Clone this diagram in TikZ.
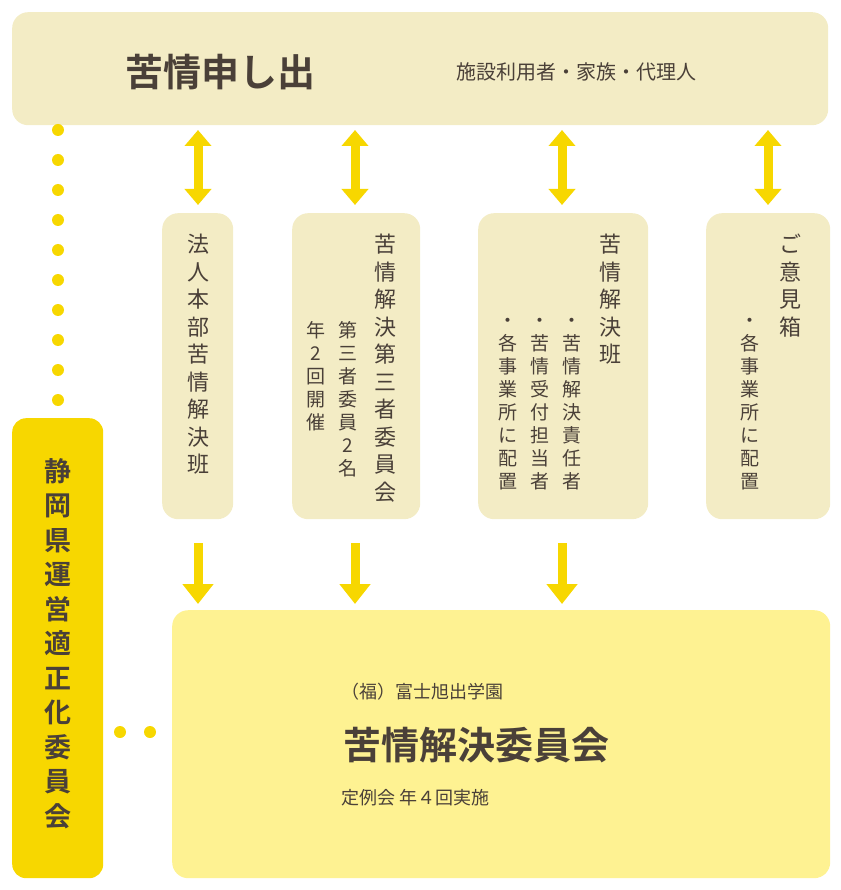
\documentclass[tikz,border=0pt]{standalone}
\usepackage{fontspec}
\setmainfont{Noto Sans CJK JP}
\newfontfamily\jpb{Noto Sans CJK JP Bold}
\usetikzlibrary{arrows.meta}
\definecolor{beige}{HTML}{F3ECC5}
\definecolor{ylw}{HTML}{F7D700}
\definecolor{lylw}{HTML}{FEF292}
\definecolor{txt}{HTML}{4A4038}
\tikzset{
  box/.style={fill=beige, rounded corners=16pt, draw=none},
  vt/.style={text=txt, align=center, inner sep=0pt, anchor=north},
  big/.style={vt, font=\fontsize{22}{27.5}\selectfont},
  sml/.style={vt, font=\fontsize{19}{23}\selectfont},
  dbl/.style={draw=ylw, line width=9pt, {Triangle[width=26pt,length=16pt]}-{Triangle[width=26pt,length=16pt]}},
  dn/.style={draw=ylw, line width=9pt, -{Triangle[width=30pt,length=20pt]}},
  dot/.style={fill=ylw, circle, inner sep=0pt, minimum size=12pt}
}
\begin{document}
\begin{tikzpicture}[x=1pt,y=-1pt]
\useasboundingbox (0,0) rectangle (840,890);
% top
\node[box, minimum width=816pt, minimum height=113pt, anchor=north west] (top) at (12,12) {};
\node[text=txt, font=\jpb\fontsize{38}{40}\selectfont] (t1) at (220,72) {苦情申し出};
\node[text=txt, font=\fontsize{20}{22}\selectfont] (t2) at (576,72) {施設利用者・家族・代理人};
% dots
\foreach \i in {0,...,9} \node[dot] (d\i) at (58,130+30*\i) {};
% left box
\node[fill=ylw, rounded corners=14pt, minimum width=91pt, minimum height=460pt, anchor=north west] (left) at (12,418) {};
\node[vt, font=\jpb\fontsize{27}{34.5}\selectfont] (lt) at (58,458) {静\\岡\\県\\運\\営\\適\\正\\化\\委\\員\\会};
% columns
\node[box, minimum width=71pt, minimum height=306pt, anchor=north west] (b1) at (162,213) {};
\node[box, minimum width=128pt, minimum height=306pt, anchor=north west] (b2) at (292,213) {};
\node[box, minimum width=170pt, minimum height=306pt, anchor=north west] (b3) at (478,213) {};
\node[box, minimum width=124pt, minimum height=306pt, anchor=north west] (b4) at (706,213) {};
\node[big] (c1) at (198,234) {法\\人\\本\\部\\苦\\情\\解\\決\\班};
\node[big] (c2a) at (385,234) {苦\\情\\解\\決\\第\\三\\者\\委\\員\\会};
\node[sml] (c2b) at (348,321) {第\\三\\者\\委\\員\\2\\名};
\node[sml] (c2c) at (316,321) {年\\2\\回\\開\\催};
\node[big] (c3a) at (610,234) {苦\\情\\解\\決\\班};
\node[sml] (c3b) at (572,318) {・\\苦\\情\\解\\決\\責\\任\\者};
\node[sml] (c3c) at (540,318) {・\\苦\\情\\受\\付\\担\\当\\者};
\node[sml] (c3d) at (508,318) {・\\各\\事\\業\\所\\に\\配\\置};
\node[big] (c4a) at (790,234) {ご\\意\\見\\箱};
\node[sml] (c4b) at (750,318) {・\\各\\事\\業\\所\\に\\配\\置};
% bottom
\node[fill=lylw, rounded corners=16pt, minimum width=658pt, minimum height=268pt, anchor=north west] (bot) at (172,610) {};
\node[text=txt, anchor=west, font=\fontsize{18}{20}\selectfont] (bt1) at (338,692) {（福）富士旭出学園};
\node[text=txt, anchor=west, font=\jpb\fontsize{38}{40}\selectfont] (bt2) at (340,745) {苦情解決委員会};
\node[text=txt, anchor=west, font=\fontsize{18}{20}\selectfont] (bt3) at (338,798) {定例会 年４回実施};
\node[dot] (h1) at (120,732) {};
\node[dot] (h2) at (150,732) {};
% arrows
\foreach \x/\n in {198/1,355/2,562/3,768/4} {
  \coordinate (ua\n) at (\x,130); \coordinate (ub\n) at (\x,205);
  \draw[dbl] (ua\n) -- (ub\n);
}
\foreach \x/\n in {198/1,355/2,562/3} {
  \coordinate (da\n) at (\x,543); \coordinate (db\n) at (\x,604);
  \draw[dn] (da\n) -- (db\n);
}
\end{tikzpicture}
\end{document}
